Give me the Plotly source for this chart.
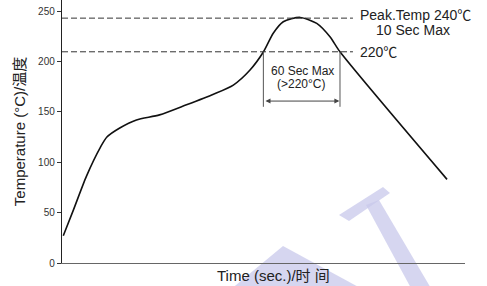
import plotly.graph_objects as go

# Reflow profile (time in s, temperature in °C)
time_s = [1, 9, 19, 30, 35, 45, 58, 76, 97, 118, 133.5, 146.5, 157, 164.6, 172.4, 185.5, 198.5, 208.8, 216.6, 300]
temp_c = [27, 53, 86, 115, 125, 134, 142, 147, 157, 167.5, 176.6, 191.5, 209.6, 228, 239.4, 243.7, 237.8, 224.5, 209.6, 83]

peak_line = 243
limit_line = 209.6
dash_end = 226.7
window_start = 156.9
window_end = 216.6
window_bottom = 155
arrow_level = 160.7

y_ticks = [0, 50, 100, 150, 200, 250]

FONT = "Liberation Sans, Arial, Noto Sans CJK SC, sans-serif"

fig = go.Figure()

fig.add_trace(go.Scatter(
    x=time_s, y=temp_c, mode="lines",
    line=dict(color="#111111", width=1.6, shape="spline", smoothing=0.7),
    hoverinfo="skip", showlegend=False,
))

# dashed reference lines
for yv in [peak_line, limit_line]:
    fig.add_shape(type="line", xref="x", yref="y", x0=0, x1=dash_end, y0=yv, y1=yv,
                  line=dict(color="#333333", width=1, dash="6px,3px"))

# 60 s window markers
for xv in [window_start, window_end]:
    fig.add_shape(type="line", xref="x", yref="y", x0=xv, x1=xv,
                  y0=limit_line, y1=window_bottom,
                  line=dict(color="#555555", width=1))

fig.add_annotation(x=window_end - 0.5, y=arrow_level, ax=window_start + 0.5, ay=arrow_level,
                   xref="x", yref="y", axref="x", ayref="y", text="",
                   showarrow=True, arrowhead=2, arrowside="end+start",
                   arrowsize=1, arrowwidth=1, arrowcolor="#444444")

# watermark (pixel coordinates -> paper)
def P(px, py):
    return ((px - 62) / 403, (263 - py) / 263)

def path(pts):
    s = ""
    for i, (px, py) in enumerate(pts):
        x, y = P(px, py)
        s += ("M" if i == 0 else "L") + f"{x:.4f},{y:.4f} "
    return s + "Z"

wm = "rgba(200,200,235,0.75)"
for pts in [
    [(339, 215), (383, 187), (390, 193), (349, 221)],
    [(366, 205), (379, 200), (432, 290), (412, 290)],
    [(283, 246), (230, 290), (364, 290)],
]:
    fig.add_shape(type="path", xref="paper", yref="paper", path=path(pts),
                  fillcolor=wm, line=dict(width=0), layer="below")

def ann(text, x, y, xanchor="center", size=11):
    fig.add_annotation(x=x, y=y, xref="x", yref="y", text=text, showarrow=False,
                       xanchor=xanchor, yanchor="middle",
                       font=dict(family=FONT, size=size, color="#222222"))

ann("Peak.Temp 240℃", 231.0, 246, "left", 14)
ann("10 Sec Max", 273.5, 231, "center", 14)
ann("220℃", 231.0, 209.6, "left", 14)
ann("60 Sec Max", 187.0, 190.5, "center", 12)
ann("(>220°C)", 186.5, 177.5, "center", 12)

fig.add_annotation(x=0.5236, y=-0.046, xref="paper", yref="paper",
                   text="Time (sec.)/时 间", showarrow=False,
                   xanchor="center", yanchor="middle",
                   font=dict(family=FONT, size=15, color="#222222"))

fig.update_layout(
    width=487, height=286,
    margin=dict(l=62, r=22, t=0, b=23),
    paper_bgcolor="white", plot_bgcolor="white",
    xaxis=dict(range=[0, 314], showticklabels=False, ticks="", showgrid=False,
               zeroline=False, showline=True, linecolor="#666666", linewidth=1,
               fixedrange=True, automargin=False),
    yaxis=dict(range=[0, 261], tickvals=y_ticks, ticks="outside", ticklen=4,
               tickcolor="#333333", showgrid=False, zeroline=False,
               showline=True, linecolor="#222222", linewidth=1.2,
               tickfont=dict(family=FONT, size=10, color="#333333"),
               title=dict(text="Temperature (°C)/温度", standoff=8,
                          font=dict(family=FONT, size=15, color="#222222")),
               fixedrange=True, automargin=False),
    font=dict(family=FONT),
    showlegend=False,
)

fig.write_html("out.html", config={"staticPlot": True},
               post_script="document.body.style.margin='0';document.body.style.overflow='hidden';")
